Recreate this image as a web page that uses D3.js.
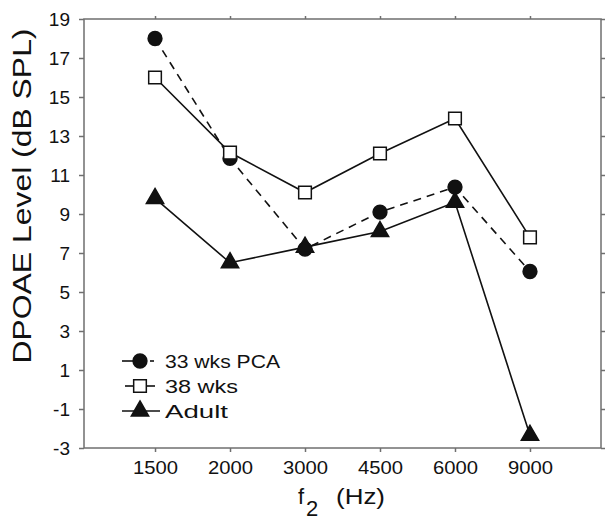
<!DOCTYPE html>
<html>
<head>
<meta charset="utf-8">
<script src="https://cdn.jsdelivr.net/npm/d3@7"></script>
<style>
  body { margin: 0; background: #fff; }
  svg { display: block; font-family: "Liberation Sans", Arial, Helvetica, sans-serif; }
</style>
</head>
<body>
<svg id="chart" width="612" height="522"></svg>
<script>
const categories = ["1500", "2000", "3000", "4500", "6000", "9000"];
const yTicks = [19, 17, 15, 13, 11, 9, 7, 5, 3, 1, -1, -3];
const series33 = [18.0, 11.85, 7.2, 9.1, 10.38, 6.05];
const series38 = [16.0, 12.15, 10.1, 12.1, 13.9, 7.8];
const seriesAdult = [9.8, 6.5, 7.3, 8.1, 9.6, -2.35];
const seriesNames = ["33 wks PCA", "38 wks", "Adult"];

const svg = d3.select("#chart");
const L = 84, R = 601, T = 19, B = 448;
const axisColor = "#6f6f6f";

const x = d3.scalePoint().domain(categories).range([L, R]).padding(0.947);
const y = d3.scaleLinear().domain([-3, 19]).range([B, T]);

// frame
svg.append("rect").attr("x", L).attr("y", T).attr("width", R - L).attr("height", B - T)
  .attr("fill", "none").attr("stroke", axisColor).attr("stroke-width", 1.5);

// left axis
const leftAx = svg.append("g").attr("transform", `translate(${L},0)`)
  .call(d3.axisLeft(y).tickValues(yTicks).tickSize(5).tickPadding(9).tickFormat(d => d < 0 ? "-" + Math.abs(d) : d));
leftAx.select(".domain").remove();
leftAx.selectAll("line").attr("stroke", axisColor).attr("stroke-width", 1.5);
leftAx.selectAll("text").attr("font-size", 19).attr("fill", "#111").attr("font-family", "Liberation Sans, Arial, sans-serif");

// right axis (ticks only)
const rightAx = svg.append("g").attr("transform", `translate(${R},0)`)
  .call(d3.axisRight(y).tickValues(yTicks).tickSize(4).tickFormat(""));
rightAx.select(".domain").remove();
rightAx.selectAll("line").attr("stroke", axisColor).attr("stroke-width", 1.5);

// bottom axis
const bottomAx = svg.append("g").attr("transform", `translate(0,${B})`)
  .call(d3.axisBottom(x).tickSize(4).tickPadding(9));
bottomAx.select(".domain").remove();
bottomAx.selectAll("line").attr("stroke", axisColor).attr("stroke-width", 1.5);
bottomAx.selectAll("text").attr("font-size", 19).attr("fill", "#111").attr("font-family", "Liberation Sans, Arial, sans-serif")
  .attr("textLength", 45).attr("lengthAdjust", "spacingAndGlyphs");

// top axis (ticks only)
const topAx = svg.append("g").attr("transform", `translate(0,${T})`)
  .call(d3.axisTop(x).tickSize(3).tickFormat(""));
topAx.select(".domain").remove();
topAx.selectAll("line").attr("stroke", axisColor).attr("stroke-width", 1.5);

// axis titles
svg.append("text")
  .attr("transform", `translate(31,196) rotate(-90)`)
  .attr("text-anchor", "middle")
  .attr("font-size", 25)
  .attr("fill", "#111")
  .attr("textLength", 335).attr("lengthAdjust", "spacingAndGlyphs")
  .text("DPOAE Level (dB SPL)");

const xt = svg.append("text").attr("font-size", 22).attr("fill", "#111");
xt.append("tspan").attr("x", 298).attr("y", 504).text("f");
xt.append("tspan").attr("x", 306).attr("y", 516).text("2");
xt.append("tspan").attr("x", 336).attr("y", 504).text("(Hz)")
  .attr("textLength", 49).attr("lengthAdjust", "spacingAndGlyphs");

// series
const data = [
  { name: seriesNames[0], values: series33, dash: "8,6", sym: d3.symbolCircle, size: 150, fill: "#111" },
  { name: seriesNames[1], values: series38, dash: null, sym: d3.symbolSquare, size: 160, fill: "#fff" },
  { name: seriesNames[2], values: seriesAdult, dash: null, sym: d3.symbolTriangle, size: 130, fill: "#111" }
];

const line = d3.line().x((d, i) => x(categories[i])).y(d => y(d));

const plot = svg.append("g");
data.forEach(s => {
  plot.append("path").datum(s.values).attr("d", line)
    .attr("fill", "none").attr("stroke", "#111").attr("stroke-width", 1.6)
    .attr("stroke-dasharray", s.dash);
});
data.forEach(s => {
  plot.selectAll(null).data(s.values).join("path")
    .attr("transform", (d, i) => `translate(${x(categories[i])},${y(d)})`)
    .attr("d", d3.symbol().type(s.sym).size(s.size))
    .attr("fill", s.fill).attr("stroke", "#111").attr("stroke-width", 1.5);
});

// legend
const lg = svg.append("g");
const rowY = [361, 386, 411];
data.forEach((s, i) => {
  const g = lg.append("g").attr("transform", `translate(140,${rowY[i]})`);
  if (s.dash) {
    g.append("line").attr("x1", -18).attr("x2", -5).attr("stroke", "#111").attr("stroke-width", 1.6);
    g.append("line").attr("x1", 10).attr("x2", 14).attr("stroke", "#111").attr("stroke-width", 1.6);
  } else {
    g.append("line").attr("x1", i === 1 ? -15 : -18).attr("x2", i === 1 ? 15 : 20).attr("stroke", "#111").attr("stroke-width", 1.6);
  }
  g.append("path").attr("d", d3.symbol().type(s.sym).size(s.size))
    .attr("fill", s.fill).attr("stroke", "#111").attr("stroke-width", 1.5);
  g.append("text").attr("x", 25).attr("y", 7).attr("font-size", 19).attr("fill", "#111")
    .attr("textLength", [115, 73, 63][i]).attr("lengthAdjust", "spacingAndGlyphs")
    .text(s.name);
});
</script>
</body>
</html>
